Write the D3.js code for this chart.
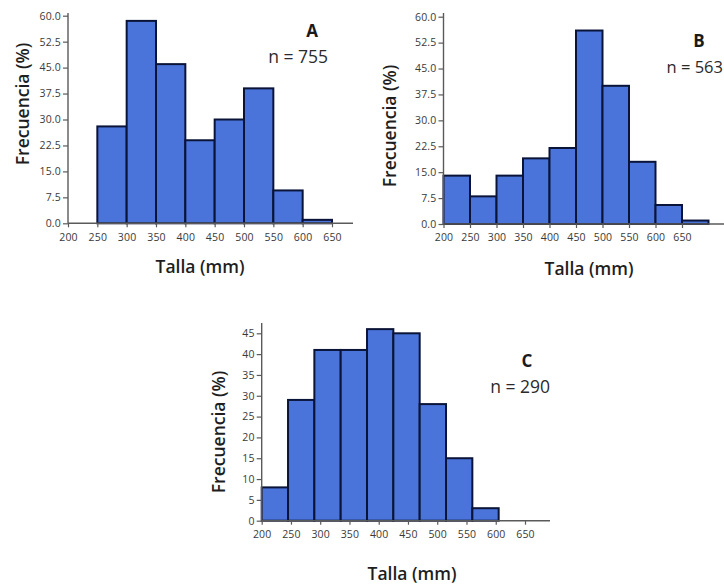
<!DOCTYPE html>
<html>
<head>
<meta charset="utf-8">
<script src="https://cdn.jsdelivr.net/npm/d3@7/dist/d3.min.js"></script>
<style>
  html, body { margin: 0; padding: 0; background: #fff; }
  svg { display: block; }
  .tick text { font-family: "Open Sans", sans-serif; fill: #3a3a3a; }
</style>
</head>
<body>
<div id="chart"></div>
<script>
// Size classes (mm) used as axis ticks
const tallaTicks = [200, 250, 300, 350, 400, 450, 500, 550, 600, 650];

// Panel A: bin edges (mm) and frequency (%)
const binsA = [250, 300, 350, 400, 450, 500, 550, 600, 650];
const freqA = [28, 58.5, 46, 24, 30, 39, 9.5, 1];

// Panel B
const binsB = [200, 250, 300, 350, 400, 450, 500, 550, 600, 650, 700];
const freqB = [14, 8, 14, 19, 22, 56, 40, 18, 5.5, 1];

// Panel C
const binsC = [200, 245, 290, 335, 380, 425, 470, 515, 560, 605];
const freqC = [8, 29, 41, 41, 46, 45, 28, 15, 3];

// Frequency ticks
const freqTicksAB = [0, 7.5, 15, 22.5, 30, 37.5, 45, 52.5, 60];
const freqTicksC = [0, 5, 10, 15, 20, 25, 30, 35, 40, 45];

const panelNames = ["A", "B", "C"];
const sampleSizes = [755, 563, 290];

const W = 724, H = 584;
const svg = d3.select("#chart").append("svg").attr("width", W).attr("height", H);

// Layout of each panel on the page
const layout = [
  { bins: binsA, freq: freqA, yMax: 60, yTicks: freqTicksAB, fmt: d3.format(".1f"),
    xr: [68, 332], xEnd: 353, yr: [223.3, 15.7], yTop: 13,
    name: [312, 37], n: [328, 63], nSize: 17.5, ylab: [22, 104], xlab: [200, 273] },
  { bins: binsB, freq: freqB, yMax: 60, yTicks: freqTicksAB, fmt: d3.format(".1f"),
    xr: [443.5, 682], xEnd: 724, yr: [224, 16.7], yTop: 13,
    name: [699, 47], n: [723, 73], nSize: 16.5, ylab: [389, 126], xlab: [589, 275] },
  { bins: binsC, freq: freqC, yMax: 45, yTicks: freqTicksC, fmt: d3.format("d"),
    xr: [261.7, 525], xEnd: 550, yr: [520.7, 333.3], yTop: 323,
    name: [527, 367], n: [550, 393], nSize: 17.5, ylab: [218, 432], xlab: [412, 580] }
];

const axisColor = "#5a5a5a";

layout.forEach((p, i) => {
  const x = d3.scaleLinear().domain([200, 650]).range(p.xr);
  const y = d3.scaleLinear().domain([0, p.yMax]).range(p.yr);
  const g = svg.append("g");

  // histogram bars
  const bars = p.freq.map((v, k) => ({ x0: p.bins[k], x1: p.bins[k + 1], v }));
  g.selectAll("rect.bar").data(bars).join("rect")
    .attr("class", "bar")
    .attr("x", d => x(d.x0))
    .attr("width", d => x(d.x1) - x(d.x0))
    .attr("y", d => y(d.v))
    .attr("height", d => y(0) - y(d.v))
    .attr("fill", "#4b74db")
    .attr("stroke", "#0a1438")
    .attr("stroke-width", 2);

  // y axis
  const ya = g.append("g").attr("transform", `translate(${p.xr[0]},0)`)
    .call(d3.axisLeft(y).tickValues(p.yTicks).tickFormat(p.fmt).tickSize(5).tickPadding(2));
  ya.select(".domain").remove();
  ya.selectAll(".tick line").attr("stroke", axisColor).attr("stroke-width", 1.2);
  ya.selectAll(".tick text").attr("font-size", 10.5).attr("letter-spacing", "0.2px");
  g.append("line").attr("x1", p.xr[0]).attr("x2", p.xr[0])
    .attr("y1", p.yTop).attr("y2", y(0))
    .attr("stroke", axisColor).attr("stroke-width", 1.4);

  // x axis
  const xa = g.append("g").attr("transform", `translate(0,${y(0)})`)
    .call(d3.axisBottom(x).tickValues(tallaTicks).tickSize(4).tickPadding(6));
  xa.select(".domain").remove();
  xa.selectAll(".tick line").attr("stroke", axisColor).attr("stroke-width", 1.2);
  xa.selectAll(".tick text").attr("font-size", 10.5).attr("letter-spacing", "0.2px");
  g.append("line").attr("x1", p.xr[0]).attr("x2", p.xEnd)
    .attr("y1", y(0)).attr("y2", y(0))
    .attr("stroke", axisColor).attr("stroke-width", 1.4);

  // panel letter and sample size
  g.append("text").attr("x", p.name[0]).attr("y", p.name[1])
    .attr("text-anchor", "middle")
    .attr("font-family", "Open Sans, sans-serif").attr("font-weight", 700)
    .attr("font-size", 17).attr("fill", "#1a1a1a")
    .text(panelNames[i]);
  g.append("text").attr("x", p.n[0]).attr("y", p.n[1])
    .attr("text-anchor", "end")
    .attr("font-family", "Open Sans, sans-serif")
    .attr("font-size", p.nSize).attr("fill", "#2a2a2a")
    .text("n = " + sampleSizes[i]);

  // axis titles
  g.append("text")
    .attr("transform", `translate(${p.ylab[0]},${p.ylab[1]}) rotate(-90)`)
    .attr("text-anchor", "middle").attr("dominant-baseline", "central")
    .attr("font-family", "Open Sans, sans-serif").attr("font-weight", 600)
    .attr("font-size", 17.5).attr("fill", "#1e1e1e")
    .text("Frecuencia (%)");
  g.append("text").attr("x", p.xlab[0]).attr("y", p.xlab[1])
    .attr("text-anchor", "middle")
    .attr("font-family", "Open Sans, sans-serif").attr("font-weight", 600)
    .attr("font-size", 17.5).attr("fill", "#1e1e1e")
    .text("Talla (mm)");
});
</script>
</body>
</html>
